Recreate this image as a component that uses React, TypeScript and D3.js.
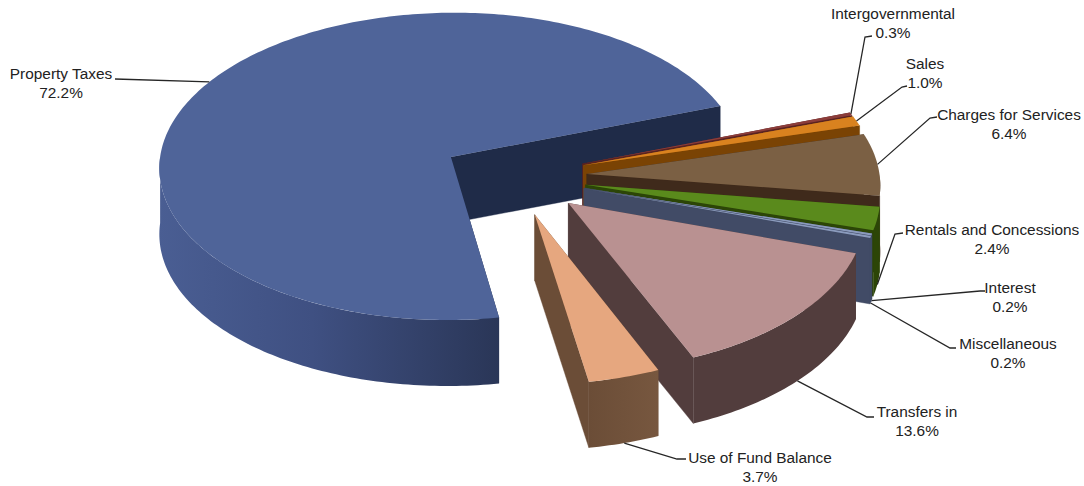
import React from "react";
import * as d3 from "d3";

// Revenue shares, in percent, clockwise from the large wedge
const categories = [
  "Property Taxes",
  "Intergovernmental",
  "Sales",
  "Charges for Services",
  "Rentals and Concessions",
  "Interest",
  "Miscellaneous",
  "Transfers in",
  "Use of Fund Balance",
];
const shares = [72.2, 0.3, 1.0, 6.4, 2.4, 0.2, 0.2, 13.6, 3.7];
const topColors = ["#4f6499", "#8c3d3a", "#d9821f", "#7b6044", "#5a8a1c", "#8b9bbd", "#8b9bbd", "#b99191", "#e6a77f"];
const endWallColors = ["#1f2b48", "#5a2422", "#7a4304", "#3f2a1b", "#2c4507", "#414b66", "#414b66", "#523d3d", "#6b4d37"];
const startWallColors = ["#1f2b48", "#5a2422", "#a8600f", "#3f2a1b", "#2c4507", "#414b66", "#414b66", "#523d3d", "#6b4d37"];

const WIDTH = 1084;
const HEIGHT = 486;
const TAU = Math.PI * 2;
const deg = (d: number) => (d / 360) * TAU;

// Pie geometry on the tilted plane
const FIRST_ANGLE = deg(170.3);
const EXPLODE = 0.25;
const PERSPECTIVE = 0.06;
const DEPTH = 66;
const sx = d3.scaleLinear().domain([-1, 1]).range([513.7 - 293, 513.7 + 293]);
const sy = d3.scaleLinear().domain([-1, 1]).range([176.5 - 156, 176.5 + 156]);

const arcs = d3
  .pie<number>()
  .sort(null)
  .startAngle(FIRST_ANGLE)
  .endAngle(FIRST_ANGLE + TAU)(shares);

type Pt = [number, number];
const project = (u: number, v: number, h: number): Pt => {
  const s = 1 + PERSPECTIVE * v;
  return [sx(u * s), sy(v * s) + h * DEPTH];
};

const line = d3.line<Pt>();

// A point on a slice: angle clockwise from north, r in radii from the slice apex
function slicePoint(mid: number, angle: number, r: number, h: number): Pt {
  const u = EXPLODE * Math.sin(mid) + r * Math.sin(angle);
  const v = -EXPLODE * Math.cos(mid) - r * Math.cos(angle);
  return project(u, v, h);
}

function arcPoints(mid: number, a0: number, a1: number, h: number): Pt[] {
  const n = Math.max(2, Math.ceil(Math.abs(a1 - a0) / deg(1)));
  return d3.range(n + 1).map((i) => slicePoint(mid, a0 + ((a1 - a0) * i) / n, 1, h));
}

// The rim only faces the viewer between east and west, through south.
// Angles run past a full turn, so the window is tried on both turns.
function visibleRim(a0: number, a1: number): [number, number] | null {
  for (const turn of [0, TAU]) {
    const lo = Math.max(a0, deg(90) + turn);
    const hi = Math.min(a1, deg(270) + turn);
    if (lo < hi) return [lo, hi];
  }
  return null;
}

// Label placement: text centre, first baseline, leader elbow, leader end, anchor height
const labelLayout = [
  { x: 61, y: 79, elbow: [115, 79], height: 0 },
  { x: 893, y: 19, elbow: [865, 37], end: [872, 36], height: 0 },
  { x: 925, y: 69, elbow: [902, 87], end: [907, 86], height: 0 },
  { x: 1009, y: 120, elbow: [930, 118], end: [937, 117], height: 0 },
  { x: 992, y: 235, elbow: [895, 234], end: [903, 233], height: 1 },
  { x: 1010, y: 293, elbow: [980, 291], end: [985, 291], height: 1 },
  { x: 1008, y: 349, elbow: [950, 348], end: [956, 348], height: 1 },
  { x: 917, y: 417, elbow: [867, 417], end: [874, 417], height: 1 },
  { x: 760, y: 463, elbow: [677, 459], end: [686, 459], height: 1 },
];

export default function App() {
  return (
    <svg
      width={WIDTH}
      height={HEIGHT}
      viewBox={`0 0 ${WIDTH} ${HEIGHT}`}
      style={{ position: "absolute", left: 0, top: 0, background: "#fff" }}
    >
      <defs>
        <linearGradient id="wall-0" gradientUnits="userSpaceOnUse" x1="158" x2="500" y1="0" y2="0">
          <stop offset="0" stopColor="#4a5e93" />
          <stop offset="0.45" stopColor="#3f5082" />
          <stop offset="1" stopColor="#2a3657" />
        </linearGradient>
        <linearGradient id="wall-8" gradientUnits="userSpaceOnUse" x1="589" x2="657" y1="0" y2="0">
          <stop offset="0" stopColor="#6b4d37" />
          <stop offset="1" stopColor="#77573f" />
        </linearGradient>
      </defs>

      {arcs.map((arc, i) => {
        const mid = (arc.startAngle + arc.endAngle) / 2;
        const apexTop = slicePoint(mid, 0, 0, 0);
        const apexBottom = slicePoint(mid, 0, 0, 1);
        const top = arcPoints(mid, arc.startAngle, arc.endAngle, 0);
        const bottom = arcPoints(mid, arc.startAngle, arc.endAngle, 1);
        const startWall: Pt[] = [apexTop, top[0], bottom[0], apexBottom];
        const endWall: Pt[] = [apexTop, top[top.length - 1], bottom[bottom.length - 1], apexBottom];
        const face: Pt[] = [apexTop, ...top];
        const rim = visibleRim(arc.startAngle, arc.endAngle);
        const outerFill = i === 0 || i === 8 ? `url(#wall-${i})` : endWallColors[i];
        const outer: Pt[] | null = rim && [
          ...arcPoints(mid, rim[0], rim[1], 0),
          ...arcPoints(mid, rim[1], rim[0], 1),
        ];
        return (
          <g key={categories[i]}>
            <path d={line(startWall) + "Z"} fill={startWallColors[i]} />
            <path d={line(endWall) + "Z"} fill={endWallColors[i]} stroke={endWallColors[i]} strokeWidth={0.4} />
            {outer && <path d={line(outer) + "Z"} fill={outerFill} />}
            <path d={line(face) + "Z"} fill={topColors[i]} />
          </g>
        );
      })}

      {arcs.map((arc, i) => {
        const mid = (arc.startAngle + arc.endAngle) / 2;
        const layout = labelLayout[i];
        const start = slicePoint(mid, mid, 1, layout.height);
        const pts = [start, layout.elbow, layout.end ?? layout.elbow] as Pt[];
        return <path key={categories[i]} d={line(pts)!} fill="none" stroke="#262626" strokeWidth={1.3} />;
      })}

      <g fontFamily="'Liberation Sans', Arial, sans-serif" fontSize={15.4} fill="#222" textAnchor="middle">
        {categories.map((name, i) => (
          <text key={name} x={labelLayout[i].x} y={labelLayout[i].y}>
            <tspan x={labelLayout[i].x}>{name}</tspan>
            <tspan x={labelLayout[i].x} dy={18.5}>
              {shares[i].toFixed(1)}%
            </tspan>
          </text>
        ))}
      </g>
    </svg>
  );
}
